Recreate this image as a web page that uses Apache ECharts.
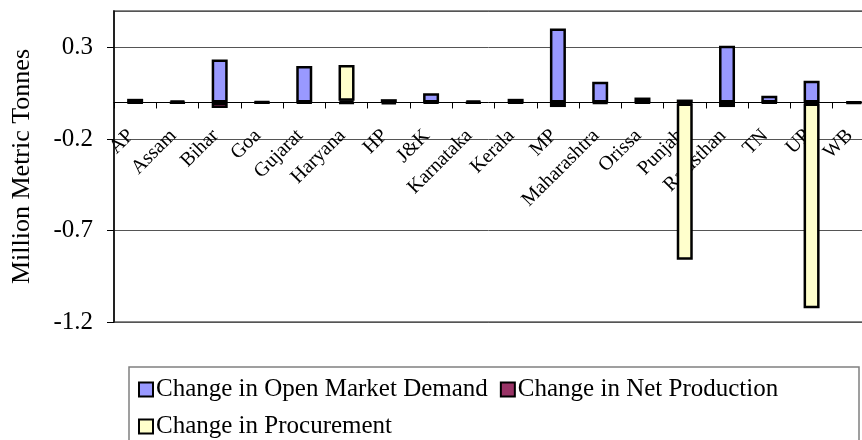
<!DOCTYPE html>
<html>
<head>
<meta charset="utf-8">
<script src="https://cdn.jsdelivr.net/npm/echarts@6/dist/echarts.min.js"></script>
<style>
html,body{margin:0;padding:0;background:#fff;}
#chart{width:862px;height:440px;}
</style>
</head>
<body>
<div id="chart"></div>
<script>
const categories = ['AP','Assam','Bihar','Goa','Gujarat','Haryana','HP','J&K','Karnataka','Kerala','MP','Maharashtra','Orissa','Punjab','Rajasthan','TN','UP','WB'];
const openMarketDemand = [0.02, 0.01, 0.235, 0.005, 0.2, 0.01, 0.018, 0.05, 0.01, 0.02, 0.405, 0.113, 0.027, 0.016, 0.31, 0.037, 0.119, 0.003];
const netProduction = [-0.002, -0.004, -0.03, -0.003, -0.004, -0.005, -0.008, -0.004, -0.004, -0.003, -0.025, -0.005, -0.003, -0.005, -0.025, -0.003, -0.005, -0.005];
const procurement = [null, null, null, null, null, 0.195, null, null, null, null, null, null, null, -0.855, null, null, -1.12, null];
const seriesNames = ['Change in Open Market Demand', 'Change in Net Production', 'Change in Procurement'];
const yTicks = { min: -1.2, max: 0.5, interval: 0.5 };

const FONT = '"Liberation Serif", "Times New Roman", serif';
const colors = ['#9999FF', '#993366', '#FFFFCC'];
const chart = echarts.init(document.getElementById('chart'), null, { renderer: 'canvas' });

const GRID_TOP = 11, GRID_H = 311;
// place the category axis at value 0 (offset from grid bottom)
const zeroOffset = -GRID_H * (0 - yTicks.min) / (yTicks.max - yTicks.min);

function barSeries(name, data, color) {
  return {
    name: name,
    type: 'bar',
    stack: 'total',
    barWidth: 16,
    data: data,
    itemStyle: { color: color, borderColor: '#000', borderWidth: 2.5 },
    emphasis: { disabled: true }
  };
}

chart.setOption({
  animation: false,
  backgroundColor: '#fff',
  color: colors,
  grid: {
    left: 114, top: GRID_TOP, width: 761, height: GRID_H,
    outerBoundsMode: 'none', containLabel: false,
    show: true, borderColor: '#888', borderWidth: 2, backgroundColor: 'transparent'
  },
  graphic: [{
    type: 'rect',
    shape: { x: 129, y: 367, width: 730, height: 90 },
    style: { fill: 'transparent', stroke: '#808080', lineWidth: 1.5 },
    z: 0
  }],
  legend: {
    left: 133, top: 372, width: 700,
    itemWidth: 14, itemHeight: 14, itemGap: 12,
    icon: 'rect',
    itemStyle: { borderColor: '#000', borderWidth: 2 },
    textStyle: { fontFamily: FONT, fontSize: 25, color: '#000', padding: [0, 0, 0, -2] },
    data: seriesNames
  },
  xAxis: {
    type: 'category',
    data: categories,
    position: 'bottom',
    offset: zeroOffset,
    axisLine: { onZero: false, lineStyle: { color: '#000', width: 1 } },
    axisTick: { show: true, length: 6, interval: 0, lineStyle: { color: '#000' } },
    axisLabel: { interval: 0, rotate: 45, margin: 26, padding: [0, 6, 0, 0], fontFamily: FONT, fontSize: 20, color: '#000' },
    splitLine: { show: false }
  },
  yAxis: {
    type: 'value',
    min: yTicks.min, max: yTicks.max, interval: yTicks.interval,
    name: 'Million Metric Tonnes',
    nameLocation: 'middle',
    nameGap: 79,
    nameTextStyle: { fontFamily: FONT, fontSize: 26, color: '#000' },
    axisLine: { show: true, lineStyle: { color: '#000', width: 1.5 } },
    axisTick: { show: true, length: 7, lineStyle: { color: '#000' } },
    axisLabel: { showMaxLabel: false, margin: 21, fontFamily: FONT, fontSize: 25, color: '#000' },
    splitLine: { show: true, lineStyle: { color: '#555', width: 1 } }
  },
  series: [
    barSeries(seriesNames[0], openMarketDemand, colors[0]),
    barSeries(seriesNames[1], netProduction, colors[1]),
    barSeries(seriesNames[2], procurement, colors[2])
  ]
});
</script>
</body>
</html>
